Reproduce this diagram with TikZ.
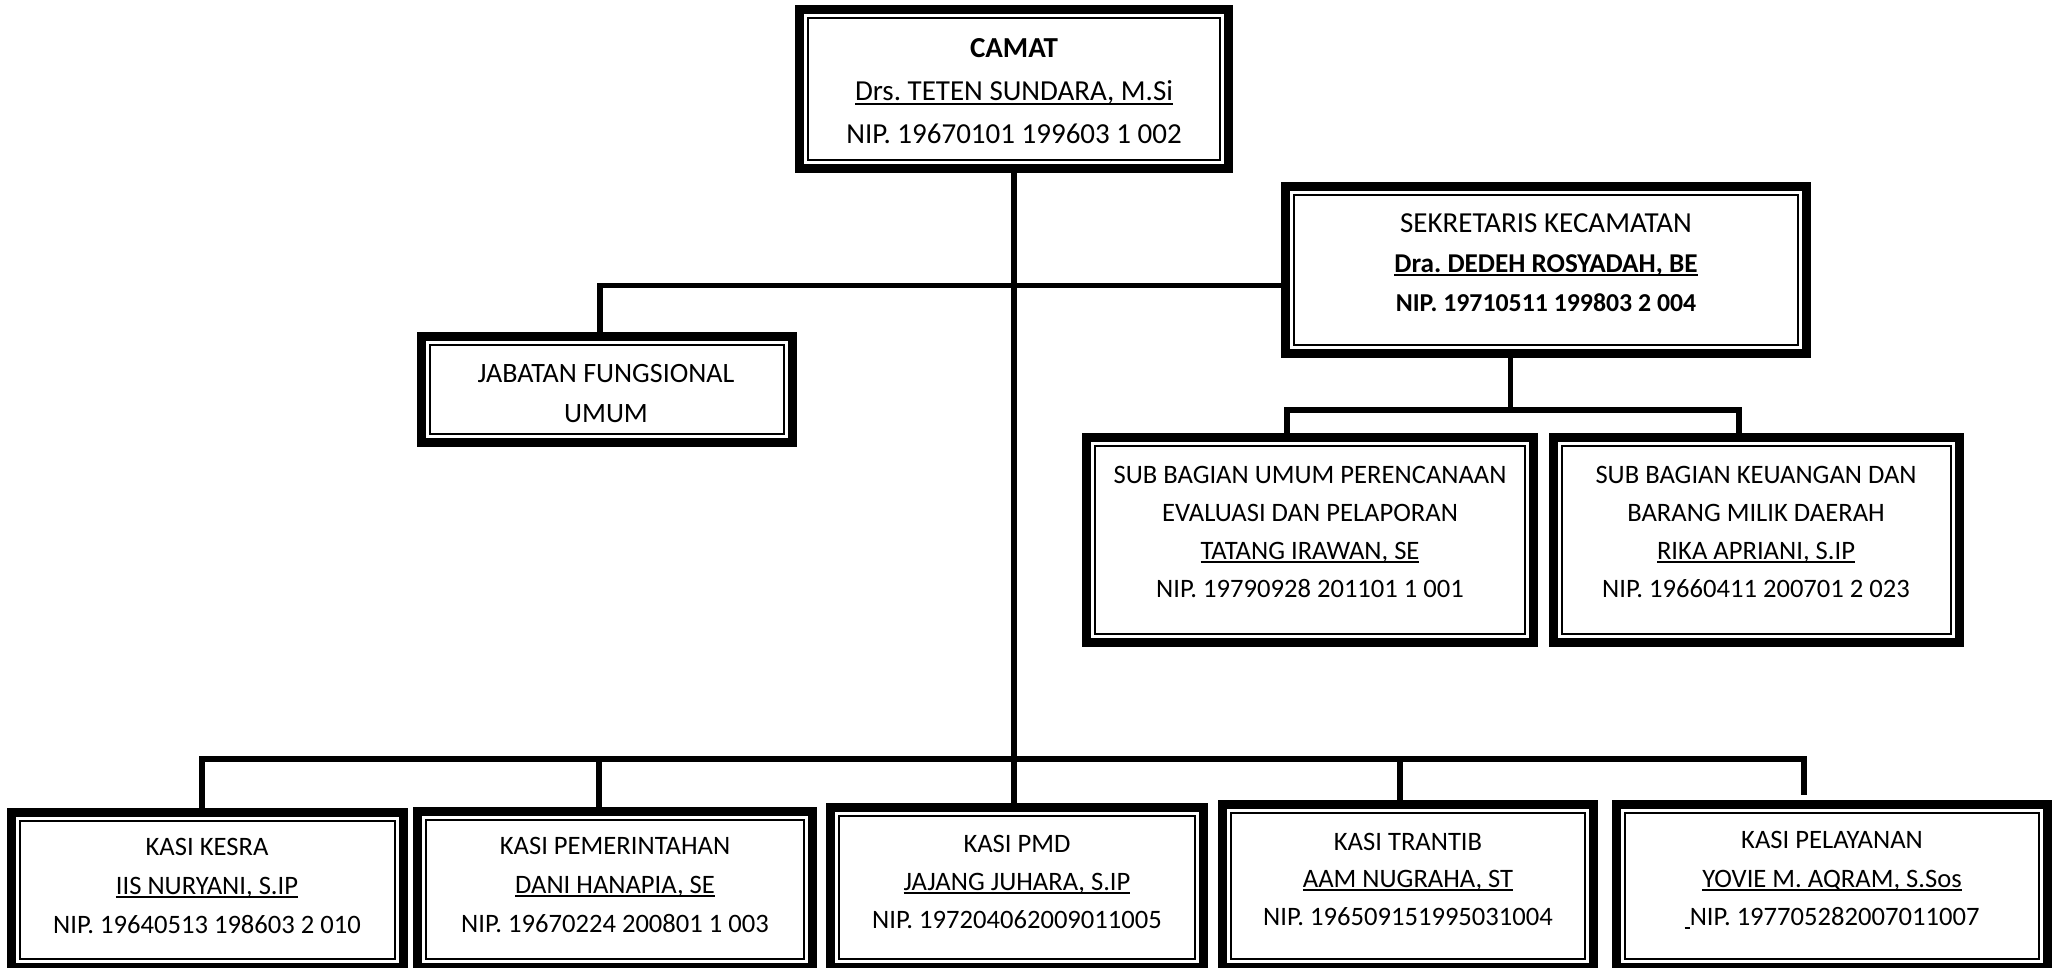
\documentclass[tikz,border=0pt]{standalone}
\usepackage{fontspec}
\setmainfont{Carlito}
\usetikzlibrary{calc}
\frenchspacing
\newsavebox\ulbox
\newcommand\ulname[1]{\sbox\ulbox{#1}\rlap{\rule[-1.9pt]{\wd\ulbox}{0.8pt}}\usebox\ulbox}
\tikzset{
  obox/.style={draw, line width=4.5pt, inner sep=0pt, fill=white},
  innerline/.style={draw, line width=1pt},
  conn/.style={line width=2.6pt, line join=miter},
  ln/.style={anchor=base, inner sep=0pt, font=\fontsize{13.3}{16}\selectfont},
  lnbig/.style={ln, font=\fontsize{14.5}{17}\selectfont},
  lnmid/.style={ln, font=\fontsize{14}{17}\selectfont},
}
\newcommand\orgbox[5]{%
  \node[obox, minimum width={(#4-#2-9)*0.5pt}, minimum height={(#5-#3-9)*0.5pt}] (#1) at ({(#2+#4)/2},{(#3+#5)/2}) {};
  \path[innerline] ({#2+13},{#3+13}) rectangle ({#4-13},{#5-13});
}
\begin{document}
\begin{tikzpicture}[x=0.5pt, y=-0.5pt]
\clip (0,0) rectangle (2056,968);
\fill[white] (0,0) rectangle (2056,968);

% boxes
\orgbox{camat}{795}{5}{1233}{173}
\orgbox{sek}{1281}{182}{1811}{358}
\orgbox{jab}{417}{332}{797}{447}
\orgbox{sub1}{1082}{433}{1538}{647}
\orgbox{sub2}{1549}{433}{1964}{647}
\orgbox{kesra}{7}{808}{408}{972}
\orgbox{pem}{413}{807}{817}{972}
\orgbox{pmd}{826}{803}{1208}{972}
\orgbox{tran}{1218}{800}{1598}{972}
\orgbox{pel}{1612}{800}{2052}{972}

% connectors
\coordinate (jc) at (600,285.5);
\coordinate (sc) at (1510.5,410);
\coordinate (sl) at (1287,410);
\coordinate (sr) at (1739,410);
\coordinate (bl) at (202,759);
\coordinate (bp) at (599,759);
\coordinate (bt) at (1400,759);
\coordinate (br) at (1804,759);
\coordinate (brend) at (1804,795);

\draw[conn] (camat.south) -- (camat.south |- pmd.north);
\draw[conn] (sek.west |- jc) -- (jc) -- (jc |- jab.north);
\draw[conn] (sek.south -| sc) -- (sc);
\draw[conn] (sl |- sub1.north) -- (sl) -- (sr) -- (sr |- sub2.north);
\draw[conn] (bl |- kesra.north) -- (bl) -- (br) -- (brend);
\draw[conn] (bp) -- (bp |- pem.north);
\draw[conn] (bt) -- (bt |- tran.north);

% texts
\node[lnbig] (camat1) at (1014,58) {\textbf{CAMAT}};
\node[lnbig] (camat2) at (1014,101) {\ulname{Drs. TETEN SUNDARA, M.Si}};
\node[lnbig] (camat3) at (1014,144) {NIP. 19670101 199603 1 002};

\node[lnbig] (sek1) at (1546,233) {SEKRETARIS KECAMATAN};
\node[ln, font=\fontsize{13.6}{16}\selectfont] (sek2) at (1546,272) {\textbf{\ulname{Dra. DEDEH ROSYADAH, BE}}};
\node[ln, font=\fontsize{12.9}{16}\selectfont] (sek3) at (1546,312) {\textbf{NIP. 19710511 199803 2 004}};

\node[lnmid] (jab1) at (606,382) {JABATAN FUNGSIONAL};
\node[lnmid] (jab2) at (606,422) {UMUM};

\node[ln] (sub11) at (1310,483) {SUB BAGIAN UMUM PERENCANAAN};
\node[ln] (sub12) at (1310,521) {EVALUASI DAN PELAPORAN};
\node[ln] (sub13) at (1310,559) {\ulname{TATANG IRAWAN, SE}};
\node[ln] (sub14) at (1310,597) {NIP. 19790928 201101 1 001};

\node[ln] (sub21) at (1756,483) {SUB BAGIAN KEUANGAN DAN};
\node[ln] (sub22) at (1756,521) {BARANG MILIK DAERAH};
\node[ln] (sub23) at (1756,559) {\ulname{RIKA APRIANI, S.IP}};
\node[ln] (sub24) at (1756,597) {NIP. 19660411 200701 2 023};

\node[ln] (kesra1) at (207,855) {KASI KESRA};
\node[ln] (kesra2) at (207,894) {\ulname{IIS NURYANI, S.IP}};
\node[ln] (kesra3) at (207,933) {NIP. 19640513 198603 2 010};

\node[ln] (pem1) at (615,854) {KASI PEMERINTAHAN};
\node[ln] (pem2) at (615,893) {\ulname{DANI HANAPIA, SE}};
\node[ln] (pem3) at (615,932) {NIP. 19670224 200801 1 003};

\node[ln] (pmd1) at (1017,852) {KASI PMD};
\node[ln] (pmd2) at (1017,890) {\ulname{JAJANG JUHARA, S.IP}};
\node[ln] (pmd3) at (1017,928) {NIP. 197204062009011005};

\node[ln] (tran1) at (1408,850) {KASI TRANTIB};
\node[ln] (tran2) at (1408,887) {\ulname{AAM NUGRAHA, ST}};
\node[ln] (tran3) at (1408,925) {NIP. 196509151995031004};

\node[ln] (pel1) at (1832,848) {KASI PELAYANAN};
\node[ln] (pel2) at (1832,887) {\ulname{YOVIE M. AQRAM, S.Sos}};
\node[ln] (pel3) at (1832,925) {\ulname{\hspace*{2.6pt}}NIP. 197705282007011007};
\end{tikzpicture}
\end{document}
